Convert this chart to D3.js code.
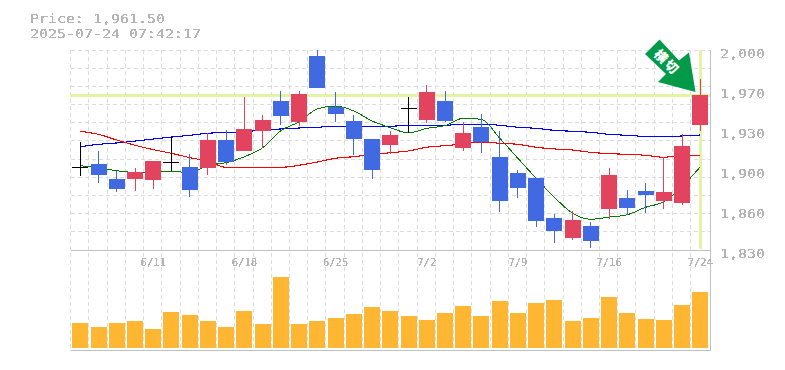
<!DOCTYPE html>
<html>
<head>
<meta charset="utf-8">
<script src="https://cdn.jsdelivr.net/npm/d3@7"></script>
<style>
  html, body { margin: 0; padding: 0; background: #fff; }
  svg { display: block; }
  text { font-family: "DejaVu Sans Mono", monospace; fill: #b4b4b4; }
</style>
</head>
<body>
<svg id="chart" width="785" height="370">
  <defs>
    <!-- the original text has no antialiasing, so threshold the alpha -->
    <filter id="aliased" filterUnits="userSpaceOnUse" x="0" y="0" width="785" height="370">
      <feComponentTransfer><feFuncA type="discrete" tableValues="0 1 1"/></feComponentTransfer>
    </filter>
  </defs>
</svg>
<script>
// === data ===
const priceText = "Price: 1,961.50";
const dateText = "2025-07-24 07:42:17";
const lastPrice = 1961.5;

const dateLabels = ["6/11", "6/18", "6/25", "7/2", "7/9", "7/16", "7/24"];
const dateLabelIndex = [4, 9, 14, 19, 24, 29, 34];
const priceTicks = [2000, 1966, 1932, 1898, 1864, 1830];

const opens = [1900.5, 1903, 1890.5, 1890.5, 1889.5, 1904, 1900.5, 1899.5, 1923.5, 1914, 1931, 1956.5, 1938.5, 1995, 1951.5, 1939.5, 1924.5, 1919.5, 1950.5, 1940.5, 1956.5, 1917, 1934.5, 1909, 1895.5, 1891, 1857, 1840, 1850.5, 1865, 1874.5, 1880, 1871.5, 1870, 1936];
const closes = [1900.5, 1893.5, 1882, 1896.5, 1905.5, 1904, 1881, 1923.5, 1904.5, 1932.5, 1940.5, 1944, 1962.5, 1967.5, 1945.5, 1924.5, 1898, 1927.5, 1950.5, 1964.5, 1939.5, 1929.5, 1921.5, 1871.5, 1882.5, 1854.5, 1846, 1855.5, 1837.5, 1893.5, 1865.5, 1877, 1879, 1918.5, 1961.5];
const highs = [1921.5, 1914, 1897, 1899.5, 1905.5, 1927, 1911.5, 1929.5, 1932, 1960, 1944.5, 1965, 1965, 2000, 1964.5, 1944.5, 1924.5, 1931, 1960, 1970, 1965, 1938.5, 1945.5, 1931, 1898, 1891, 1860.5, 1863, 1853.5, 1899.5, 1881, 1887, 1909, 1928.5, 1975.5];
const lows = [1893, 1887, 1879.5, 1880, 1881.5, 1897, 1875, 1893.5, 1902, 1914, 1916.5, 1936, 1935.5, 1967.5, 1938.5, 1910.5, 1890.5, 1911.5, 1929.5, 1938, 1938.5, 1914, 1912.5, 1862.5, 1874, 1849.5, 1836, 1838.5, 1831.5, 1856.5, 1859.5, 1861.5, 1864.5, 1868.5, 1931];
const volumes = [25, 21, 25, 27, 19, 36, 33, 27, 21, 37, 24, 71, 24, 27, 30, 34, 41, 37, 32, 28, 35, 42, 32, 47, 35, 45, 48, 27, 30, 51, 35, 29, 28, 43, 56];

const maGreen = [1901.7, 1899.7, 1897.4, 1896, 1896, 1896.9, 1895.7, 1902, 1904.2, 1909.3, 1916.9, 1931.4, 1939, 1949.9, 1952.4, 1948.2, 1939.7, 1934, 1929.5, 1933.4, 1935.7, 1942, 1941.1, 1925, 1907.9, 1890.9, 1874.8, 1861.2, 1856.1, 1858, 1860, 1866.3, 1871, 1883.8, 1900.8];
const maRed = [1930.9, 1928.3, 1923.5, 1919, 1915.3, 1912.2, 1908.5, 1905.4, 1900.3, 1900.3, 1900.3, 1900.3, 1902, 1904.8, 1908, 1909.3, 1911.2, 1912.7, 1914.2, 1917.3, 1918.7, 1920.1, 1921.8, 1920.7, 1919.8, 1917.3, 1915.9, 1915, 1913, 1911.9, 1911.3, 1910.5, 1908.8, 1910.5, 1910.5];
const maBlue = [1917.8, 1919.8, 1921, 1922.6, 1924.3, 1926, 1927.5, 1929.2, 1930, 1930.5, 1932, 1932.9, 1933.7, 1934.3, 1935.2, 1935.2, 1935.2, 1935.2, 1936, 1936, 1936, 1936.9, 1936.9, 1936, 1934.3, 1933.4, 1931.7, 1930.9, 1930, 1928.3, 1927.5, 1926.6, 1926.6, 1926.9, 1927.8];

// === layout ===
const plot = { left: 70.5, right: 710.5, top: 50, priceBottom: 250, volBottom: 348, bottom: 350 };
const colors = { up: "#e2435f", down: "#4169e1", doji: "#000", vol: "#ffb733", grid: "#dcdcdc", axis: "#c0c0c0", last: "#e3f5a5", arrow: "#009a49" };
const barWidth = 16;

const svg = d3.select("#chart");
const days = d3.range(opens.length);

const x = d3.scalePoint().domain(days).range([80.3, 700.3]);
const y = d3.scaleLinear().domain([1830, 2000]).range([plot.priceBottom, plot.top]);
const yVol = d3.scaleLinear().domain([0, 98]).range([plot.volBottom, plot.priceBottom]);

// === grid ===
const grid = svg.append("g").attr("shape-rendering", "crispEdges")
  .attr("stroke", colors.grid).attr("stroke-dasharray", "4,3").attr("fill", "none");
grid.selectAll(".v").data(days).enter().append("line")
  .attr("x1", d => x(d) - 9.6).attr("x2", d => x(d) - 9.6)
  .attr("y1", plot.top).attr("y2", plot.bottom);
grid.selectAll(".h").data(d3.range(1, 12)).enter().append("line")
  .attr("x1", plot.left).attr("x2", plot.right)
  .attr("y1", d => y(1830 + d * 170 / 11)).attr("y2", d => y(1830 + d * 170 / 11));

// === volume ===
svg.append("g").attr("shape-rendering", "crispEdges").selectAll("rect").data(days).enter().append("rect")
  .attr("x", d => x(d) - barWidth / 2).attr("width", barWidth)
  .attr("y", d => yVol(volumes[d])).attr("height", d => yVol(0) - yVol(volumes[d]))
  .attr("fill", colors.vol);

// === frame ===
const frame = svg.append("g").attr("shape-rendering", "crispEdges").attr("stroke", colors.axis);
frame.append("line").attr("x1", plot.left).attr("x2", plot.right).attr("y1", plot.priceBottom).attr("y2", plot.priceBottom);
frame.append("line").attr("x1", plot.left).attr("x2", plot.right).attr("y1", plot.bottom).attr("y2", plot.bottom);
frame.append("line").attr("x1", plot.right).attr("x2", plot.right).attr("y1", plot.top).attr("y2", plot.bottom);

// === last price marker ===
svg.append("rect").attr("shape-rendering", "crispEdges")
  .attr("x", plot.left - 0.5).attr("width", plot.right - plot.left)
  .attr("y", y(lastPrice) - 1.5).attr("height", 3).attr("fill", colors.last);
svg.append("rect").attr("shape-rendering", "crispEdges")
  .attr("x", x(34) - 1).attr("width", 3)
  .attr("y", plot.top).attr("height", 199).attr("fill", colors.last);

// === moving averages ===
const lineGen = d3.line().x((d, i) => x(i)).y(d => y(d)).curve(d3.curveMonotoneX);
const maLines = [[maBlue, "#0000ff", 1.1], [maRed, "#ff0000", 1.1], [maGreen, "#007a00", 1]];
svg.append("g").attr("fill", "none").attr("shape-rendering", "crispEdges").selectAll("path").data(maLines).enter().append("path")
  .attr("d", d => lineGen(d[0])).attr("stroke", d => d[1]).attr("stroke-width", d => d[2]);

// === candles ===
const candleColor = d => closes[d] > opens[d] ? colors.up : closes[d] < opens[d] ? colors.down : colors.doji;
const candles = svg.append("g").attr("shape-rendering", "crispEdges");
candles.selectAll(".wick").data(days).enter().append("line")
  .attr("x1", d => x(d)).attr("x2", d => x(d))
  .attr("y1", d => y(highs[d])).attr("y2", d => y(lows[d]))
  .attr("stroke", candleColor);
candles.selectAll(".body").data(days.filter(d => opens[d] !== closes[d])).enter().append("rect")
  .attr("x", d => x(d) - barWidth / 2).attr("width", barWidth)
  .attr("y", d => y(Math.max(opens[d], closes[d])))
  .attr("height", d => Math.abs(y(opens[d]) - y(closes[d])))
  .attr("fill", candleColor);
candles.selectAll(".doji").data(days.filter(d => opens[d] === closes[d])).enter().append("line")
  .attr("x1", d => x(d) - barWidth / 2).attr("x2", d => x(d) + barWidth / 2)
  .attr("y1", d => y(opens[d])).attr("y2", d => y(opens[d]))
  .attr("stroke", colors.doji);

// === arrow ===
const arrow = svg.append("g");
arrow.append("polygon")
  .attr("points", "659.5,39.5 679,60.5 689,52.5 695.5,92 658,82 666,74 645,54")
  .attr("fill", colors.arrow);
arrow.append("text").attr("transform", "translate(667.5,61.7) rotate(45)")
  .attr("text-anchor", "middle").attr("dominant-baseline", "central").attr("letter-spacing", 2)
  .style("font-family", "'Noto Sans CJK JP'").style("font-size", "13px").style("font-weight", 900).style("fill", "#fff")
  .text("横切");

// === texts ===
const labels = svg.append("g").attr("filter", "url(#aliased)");
// glyphs are wider than a normal mono font, textLength stretches them to 9px per char
const wideText = (g, str, tx, ty) => g.append("text").attr("x", tx).attr("y", ty)
  .attr("font-size", 13).attr("textLength", str.length * 9).attr("lengthAdjust", "spacingAndGlyphs").text(str);

wideText(labels, priceText, 30, 23);
wideText(labels, dateText, 30, 38);
priceTicks.forEach(d => wideText(labels, d3.format(",")(Math.round(d / 10) * 10), 720, y(d) + 8));

labels.append("g").attr("font-size", 10.5).attr("text-anchor", "middle")
  .selectAll("text").data(dateLabels).enter().append("text")
  .attr("x", (d, i) => x(dateLabelIndex[i])).attr("y", 266)
  .text(d => d);
</script>
</body>
</html>
